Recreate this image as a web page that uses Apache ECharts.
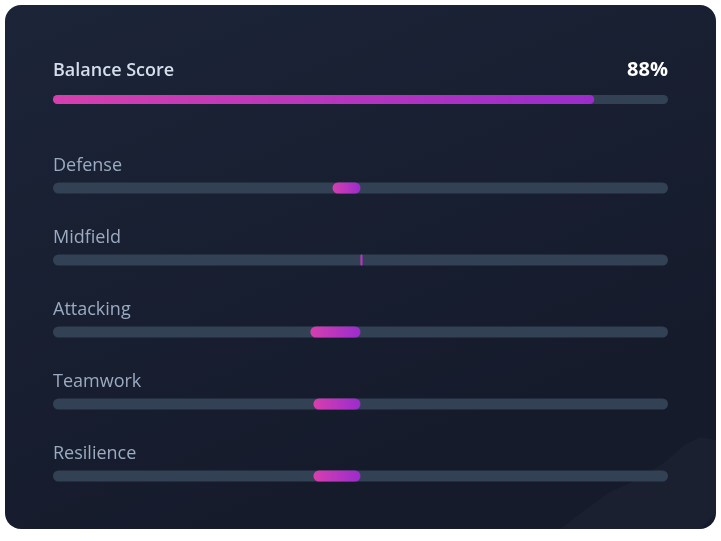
<!DOCTYPE html>
<html>
<head>
<meta charset="utf-8">
<script src="https://cdn.jsdelivr.net/npm/echarts@6/dist/echarts.min.js"></script>
<style>
html,body{margin:0;padding:0;background:#ffffff;}
#chart{width:721px;height:541px;}
</style>
</head>
<body>
<div id="chart"></div>
<script>
// ---- data ----
var balanceLabel = 'Balance Score';
var balanceValue = [88];
var categories = ['Defense', 'Midfield', 'Attacking', 'Teamwork', 'Resilience'];
var deviation = [-9.1, 0.7, -16.3, -15.3, -15.3];

var chart = echarts.init(document.getElementById('chart'));
var fillGrad = new echarts.graphic.LinearGradient(0, 0, 1, 0, [
  {offset: 0, color: '#d63fae'},
  {offset: 1, color: '#9b2ccd'}
]);
var trackColor = '#334155';

var option = {
  backgroundColor: 'transparent',
  animation: false,
  graphic: [
    {
      type: 'rect', z: -10, silent: true,
      shape: {x: 5, y: 5, width: 711, height: 524, r: 16},
      style: {fill: new echarts.graphic.LinearGradient(0, 0, 0.3, 1, [
        {offset: 0, color: '#1c2438'},
        {offset: 1, color: '#151b2b'}
      ])}
    },
    {
      type: 'polygon', z: -9, silent: true,
      shape: {points: [[560,529],[585,510],[610,492],[640,478],[665,462],[685,445],[700,437],[716,440],[716,513],[700,529]]},
      style: {fill: 'rgba(255,255,255,0.025)'}
    },
    {
      type: 'text', left: 53, top: 62,
      style: {text: balanceLabel, fill: '#d5dfec', font: '600 18px "Open Sans"'}
    },
    {
      type: 'text', right: 53, top: 60,
      style: {text: balanceValue[0] + '%', fill: '#ffffff', font: '700 20px "Open Sans"', textAlign: 'right'}
    }
  ],
  grid: [
    {left: 53, width: 615, top: 90, height: 19},
    {left: 53, width: 615, top: 152, height: 360}
  ],
  xAxis: [
    {gridIndex: 0, type: 'value', min: 0, max: 100, show: false},
    {gridIndex: 1, type: 'value', min: -100, max: 100, show: false}
  ],
  yAxis: [
    {gridIndex: 0, type: 'category', data: [balanceLabel], show: false},
    {
      gridIndex: 1, type: 'category', data: categories, inverse: true,
      axisLine: {show: false}, axisTick: {show: false}, splitLine: {show: false},
      axisLabel: {
        inside: true, margin: 0, align: 'left', verticalAlign: 'bottom',
        padding: [0, 0, 12, 0], lineHeight: 20,
        color: '#9aabc2', fontSize: 18, fontFamily: 'Open Sans'
      }
    }
  ],
  series: [
    {
      type: 'bar', xAxisIndex: 0, yAxisIndex: 0, data: balanceValue,
      barWidth: 9, showBackground: true,
      backgroundStyle: {color: trackColor, borderRadius: 5},
      itemStyle: {color: fillGrad, borderRadius: 5}
    },
    {
      type: 'bar', xAxisIndex: 1, yAxisIndex: 1, data: deviation,
      barWidth: 11, showBackground: true,
      backgroundStyle: {color: trackColor, borderRadius: 6},
      itemStyle: {color: fillGrad, borderRadius: 6}
    }
  ]
};
chart.setOption(option);
</script>
</body>
</html>
